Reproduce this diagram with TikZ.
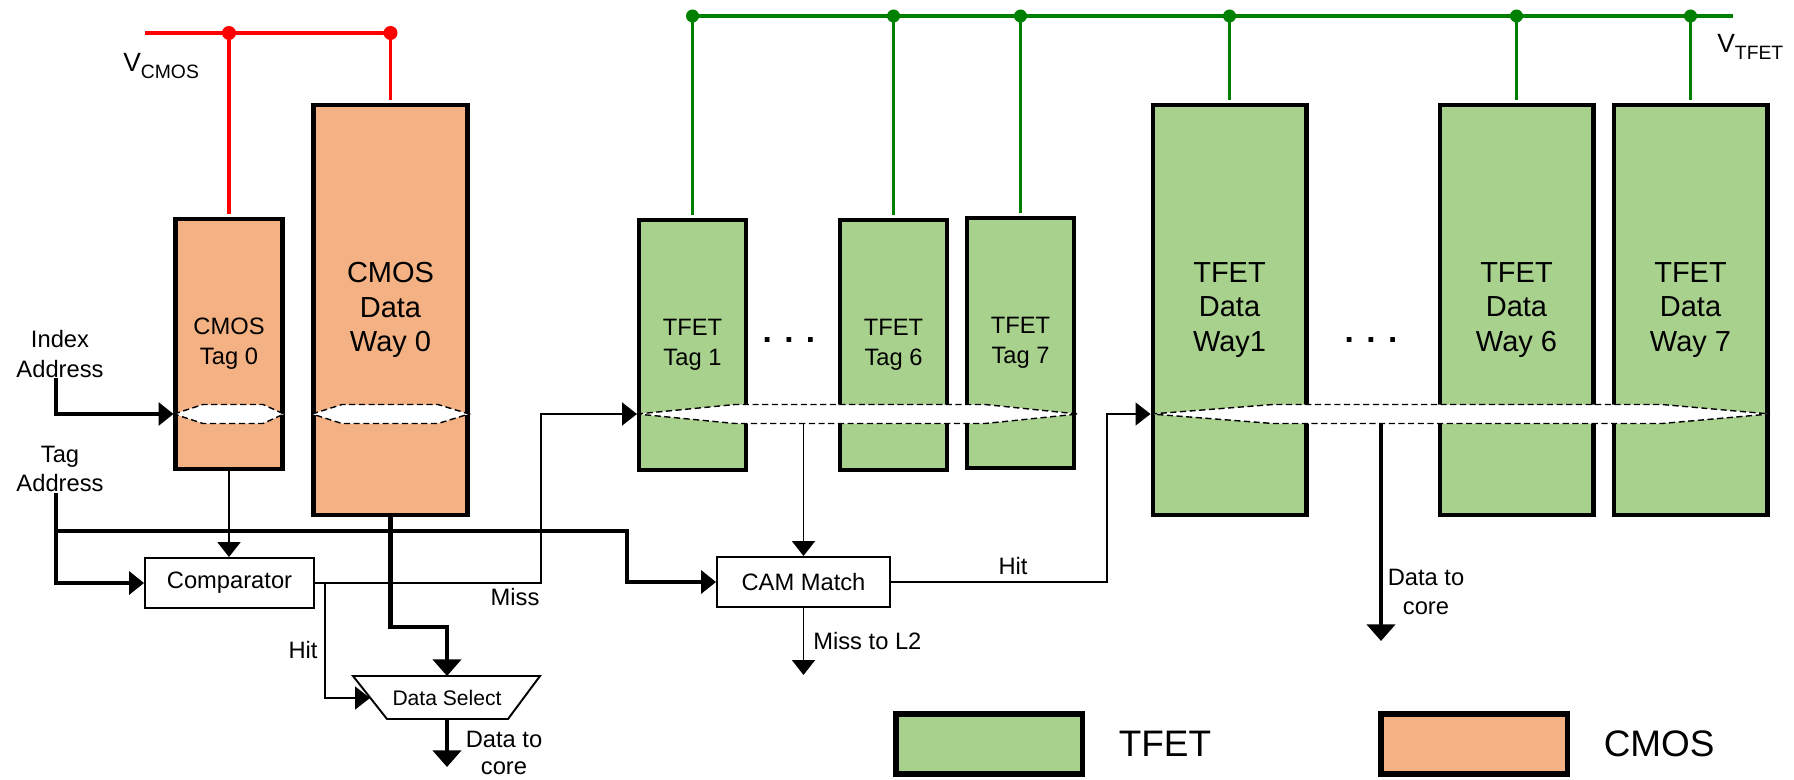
\documentclass[tikz,border=0pt]{standalone}
\usepackage{fontspec}
\setmainfont{Liberation Sans}
\usepackage{tikz}
\usetikzlibrary{arrows.meta,positioning}
\usepackage{xcolor}
\definecolor{cmosfill}{RGB}{244,177,131}
\definecolor{tfetfill}{RGB}{169,209,142}
\definecolor{railred}{RGB}{255,0,0}
\definecolor{railgreen}{RGB}{0,128,0}
\newcommand{\fbig}{\fontsize{16.5}{19.5}\selectfont}
\newcommand{\fsmall}{\fontsize{13.5}{17}\selectfont}
\newcommand{\fcore}{\fontsize{13.5}{15.5}\selectfont}
\newcommand{\fsel}{\fontsize{12}{14}\selectfont}
\newcommand{\flegend}{\fontsize{21}{25}\selectfont}
\newcommand{\fdots}{\fontsize{19}{19}\selectfont\bfseries}

\begin{document}
\begin{tikzpicture}[x=0.02cm, y=-0.02cm, >=Latex]
\tikzstyle{cell}=[draw, line width=2.3pt, inner sep=0pt, align=center]
\tikzstyle{tagcell}=[cell, minimum width=2.14cm, minimum height=5.02cm, font=\fsmall]
\tikzstyle{waycell}=[cell, minimum width=3.08cm, minimum height=8.22cm, font=\fbig]
\tikzstyle{cmos}=[fill=cmosfill]
\tikzstyle{tfet}=[fill=tfetfill]
\tikzstyle{logic}=[draw, line width=1.1pt, inner sep=0pt, minimum height=1cm, font=\fsmall]
\tikzstyle{lbl}=[inner sep=0pt, align=center, font=\fsmall]
\tikzstyle{wordline}=[draw, fill=white, line width=0.8pt, dash pattern=on 3.5pt off 2pt]
\tikzstyle{sig}=[line width=1.1pt, -{Triangle[length=8.5pt,width=13pt]}]
\tikzstyle{addr}=[line width=2pt, -{Triangle[length=8.5pt,width=13pt]}]
\tikzstyle{bus}=[line width=2.8pt, -{Triangle[length=9.5pt,width=16pt]}]
\tikzstyle{redwire}=[railred, line width=2pt]
\tikzstyle{greenwire}=[railgreen, line width=1.6pt]
\tikzstyle{legbox}=[draw, line width=3.4pt, minimum width=3.74cm, minimum height=1.2cm, inner sep=0pt]
\useasboundingbox (0,0) rectangle (1794,780);

\node[tagcell, cmos] (tag0) at (229,344) {CMOS\\Tag 0};
\node[waycell, cmos] (way0) at (390.5,310) {CMOS\\Data\\Way 0};
\node[tagcell, tfet] (tag1) at (692.5,345) {TFET\\Tag 1};
\node[tagcell, tfet, right=1.80cm of tag1] (tag6) {TFET\\Tag 6};
\node[tagcell, tfet, right=0.32cm of tag6, yshift=0.04cm] (tag7) {TFET\\Tag 7};
\node[waycell, tfet] (way1) at (1229.5,310) {TFET\\Data\\Way1};
\node[waycell, tfet, right=2.58cm of way1] (way6) {TFET\\Data\\Way 6};
\node[waycell, tfet, right=0.32cm of way6] (way7) {TFET\\Data\\Way 7};
\node[font=\fdots, inner sep=0pt] (dotsT) at (789,340) {. . .};
\node[font=\fdots, inner sep=0pt] (dotsD) at (1371,340) {. . .};

\draw[wordline] (174,414) -- (203,404.5) -- (263,404.5) -- (284,414) -- (263,423.5) -- (203,423.5) -- cycle;
\draw[wordline] (312,414) -- (342,404.5) -- (438,404.5) -- (469,414) -- (438,423.5) -- (342,423.5) -- cycle;
\draw[wordline] (637,414) -- (735,404.5) -- (985,404.5) -- (1078,414) -- (985,423.5) -- (735,423.5) -- cycle;
\draw[wordline] (1151,414) -- (1273,404.5) -- (1662,404.5) -- (1770,414) -- (1662,423.5) -- (1273,423.5) -- cycle;

\coordinate (wl) at (0,414);
\coordinate (in0) at (tag0.west |- wl);
\coordinate (in1) at (tag1.west |- wl);
\coordinate (inw) at (way1.west |- wl);
\coordinate (vc) at (145,33);
\coordinate (vt) at (1733,16);

\draw[redwire] (vc) -- (way0.north |- vc);
\draw[redwire, shorten >=1.15pt] (tag0.north |- vc) -- (tag0.north); \draw[redwire, shorten >=1.15pt] (way0.north |- vc) -- (way0.north);
\fill[railred] (tag0.north |- vc) circle (0.14cm); \fill[railred] (way0.north |- vc) circle (0.14cm);
\node[anchor=base west, inner sep=0pt] (vcmos) at (123,72) {\fontsize{15}{18}\selectfont V\raisebox{-0.14cm}{\fontsize{11}{13}\selectfont CMOS}};

\draw[railgreen, line width=2.6pt] (tag1.north |- vt) -- (vt);
\draw[greenwire, shorten >=1.15pt] (tag1.north |- vt) -- (tag1.north); \draw[greenwire, shorten >=1.15pt] (tag6.north |- vt) -- (tag6.north);
\draw[greenwire, shorten >=1.15pt] (tag7.north |- vt) -- (tag7.north); \draw[greenwire, shorten >=1.15pt] (way1.north |- vt) -- (way1.north);
\draw[greenwire, shorten >=1.15pt] (way6.north |- vt) -- (way6.north); \draw[greenwire, shorten >=1.15pt] (way7.north |- vt) -- (way7.north);
\fill[railgreen] (tag1.north |- vt) circle (0.13cm); \fill[railgreen] (tag6.north |- vt) circle (0.13cm);
\fill[railgreen] (tag7.north |- vt) circle (0.13cm); \fill[railgreen] (way1.north |- vt) circle (0.13cm);
\fill[railgreen] (way6.north |- vt) circle (0.13cm); \fill[railgreen] (way7.north |- vt) circle (0.13cm);
\node[anchor=base west, inner sep=0pt] (vtfet) at (1717,53) {\fontsize{15}{18}\selectfont V\raisebox{-0.14cm}{\fontsize{11}{13}\selectfont TFET}};

\node[logic, minimum width=3.38cm] (cmp) at (229.5,583) {Comparator};
\node[logic, minimum width=3.46cm] (cam) at (803.5,582) {CAM Match};
\draw[line width=1.1pt] (353,676) -- (540,676) -- (508,719) -- (387,719) -- cycle;
\node[inner sep=0pt, font=\fsel] (sel) at (447,698) {Data Select};
\coordinate (seltop) at (447,676);
\coordinate (selin) at (370,698);
\coordinate (selout) at (447,719);

\node[lbl] (idx) at (60,354) {Index\\Address};
\node[lbl] (tga) at (60,469) {Tag\\Address};
\coordinate (ix) at ([xshift=-0.08cm]idx.south);
\coordinate (tx) at ([xshift=-0.08cm]tga.south);
\coordinate (tb) at (627,531);
\draw[addr] (ix) |- (in0);
\draw[addr] (tx) |- (cmp.west);
\draw[addr] (tx |- tb) -- (tb) |- (cam.west);

\draw[sig, line width=1.4pt] (tag0.south) -- (tag0.south |- cmp.north);
\coordinate (mx) at (541,414);
\draw[sig] (cmp.east) -| (mx) -- (in1);
\node[lbl] (miss) at (515,597) {Miss};
\coordinate (hx) at (325,583);
\draw[sig] (hx) |- (selin);
\node[lbl] (hit0) at (303,650) {Hit};

\coordinate (wb) at (390.5,627);
\draw[bus] (way0.south) -- (wb) -| (seltop);
\coordinate (core0) at (447,767);
\draw[bus] (selout) -- (core0);
\node[lbl, font=\fcore] (dc0) at (504,753) {Data to\\core};

\coordinate (tagout) at (803.5,423.5);
\draw[sig] (tagout) -- (cam.north);
\coordinate (l2) at (803.5,675);
\draw[sig] (cam.south) -- (l2);
\node[lbl, anchor=west] (missl2) at (813,641) {Miss to L2};
\coordinate (hy) at (1107,414);
\draw[sig] (cam.east) -| (hy) -- (inw);
\node[lbl] (hit1) at (1013,566) {Hit};

\coordinate (dout) at (1381,423.5);
\coordinate (dcore) at (1381,641);
\draw[bus] (dout) -- (dcore);
\node[lbl] (dc1) at (1426,592) {Data to\\core};

\node[legbox, tfet] (legT) at (989,744) {};
\node[font=\flegend, inner sep=0pt, right=0.66cm of legT] (legTt) {TFET};
\node[legbox, cmos] (legC) at (1474,744) {};
\node[font=\flegend, inner sep=0pt, right=0.66cm of legC] (legCt) {CMOS};
\end{tikzpicture}
\end{document}
